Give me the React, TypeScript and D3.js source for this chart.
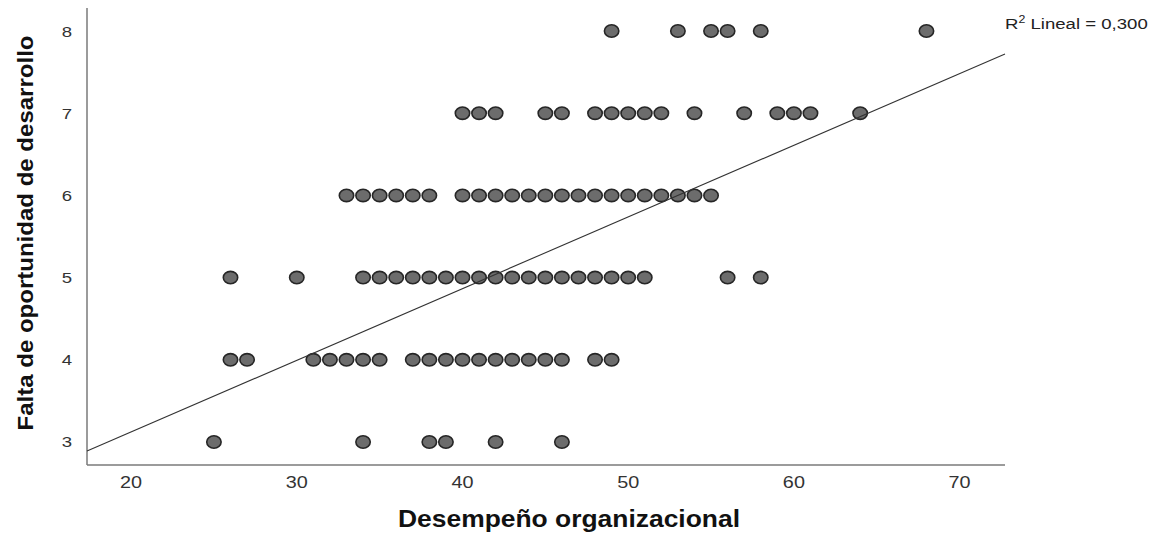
import * as d3 from 'd3'

// Desempeño organizacional scores per level of "Falta de oportunidad de desarrollo"
const row8 = [49, 53, 55, 56, 58, 68]
const row7 = [40, 41, 42, 45, 46, 48, 49, 50, 51, 52, 54, 57, 59, 60, 61, 64]
const row6 = [33, 34, 35, 36, 37, 38, 40, 41, 42, 43, 44, 45, 46, 47, 48, 49, 50, 51, 52, 53, 54, 55]
const row5 = [26, 30, 34, 35, 36, 37, 38, 39, 40, 41, 42, 43, 44, 45, 46, 47, 48, 49, 50, 51, 56, 58]
const row4 = [26, 27, 31, 32, 33, 34, 35, 37, 38, 39, 40, 41, 42, 43, 44, 45, 46, 48, 49]
const row3 = [25, 34, 38, 39, 42, 46]

const yLevels = [8, 7, 6, 5, 4, 3]
const rows = [row8, row7, row6, row5, row4, row3]

const xTicks = [20, 30, 40, 50, 60, 70]
const yTicks = [3, 4, 5, 6, 7, 8]

// linear fit (R2 = 0,300)
const fitIntercept = 1.378
const fitSlope = 0.0872
const r2Label = '0,300'

const W = 1168
const H = 538

export default function App() {
  const margin = { left: 87, right: 1005, top: 8, bottom: 465 }

  const x = d3.scaleLinear().domain([17.34, 72.74]).range([margin.left, margin.right])
  const y = d3.scaleLinear().domain([2.72, 8.28]).range([margin.bottom, margin.top])

  const points = rows.flatMap((vals, i) => vals.map(v => ({ x: v, y: yLevels[i] })))

  const [x0, x1] = x.domain()
  const fitLine = d3.line<number>()
    .x(d => x(d))
    .y(d => y(fitIntercept + fitSlope * d))([x0, x1])

  const font = 'Arial, "Liberation Sans", sans-serif'
  const stretch = 1.24 // the source picture is a little wider than tall

  return (
    <svg width={W} height={H} style={{ position: 'absolute', left: 0, top: 0, background: '#fff' }}>
      {/* axes */}
      <line x1={margin.left} x2={margin.left} y1={margin.top} y2={margin.bottom} stroke="#7a7a7a" strokeWidth={1.5} />
      <line x1={margin.left} x2={margin.right} y1={margin.bottom} y2={margin.bottom} stroke="#7a7a7a" strokeWidth={1.5} />

      {yTicks.map(t => (
        <g key={'y' + t} transform={`translate(${margin.left - 15}, ${y(t) + 5.5}) scale(${stretch}, 1)`}>
          <text textAnchor="end" fontFamily={font} fontSize={15} fill="#333">{t}</text>
        </g>
      ))}
      {xTicks.map(t => (
        <g key={'x' + t} transform={`translate(${x(t)}, ${margin.bottom + 23}) scale(${stretch}, 1)`}>
          <text textAnchor="middle" fontFamily={font} fontSize={16} fill="#333">{t}</text>
        </g>
      ))}

      {/* points */}
      {points.map((p, i) => (
        <ellipse key={i} cx={x(p.x)} cy={y(p.y)} rx={7.2} ry={6.2}
          fill="#6c6c6c" stroke="#262626" strokeWidth={1.6} />
      ))}

      {/* fit line */}
      <path d={fitLine || ''} fill="none" stroke="#333" strokeWidth={1.1} />

      <g transform={`translate(1005, 29) scale(${stretch}, 1)`}>
        <text fontFamily={font} fontSize={15} fill="#222">
          R<tspan dy={-6} fontSize={10}>2</tspan><tspan dy={6}> Lineal = {r2Label}</tspan>
        </text>
      </g>

      {/* axis titles */}
      <text x={569} y={527} textAnchor="middle" textLength={342} lengthAdjust="spacingAndGlyphs"
        fontFamily={font} fontWeight="bold" fontSize={24} fill="#111">Desempeño organizacional</text>
      <text transform="translate(33, 233) rotate(-90)" textAnchor="middle" textLength={395} lengthAdjust="spacingAndGlyphs"
        fontFamily={font} fontWeight="bold" fontSize={22} fill="#111">Falta de oportunidad de desarrollo</text>
    </svg>
  )
}
